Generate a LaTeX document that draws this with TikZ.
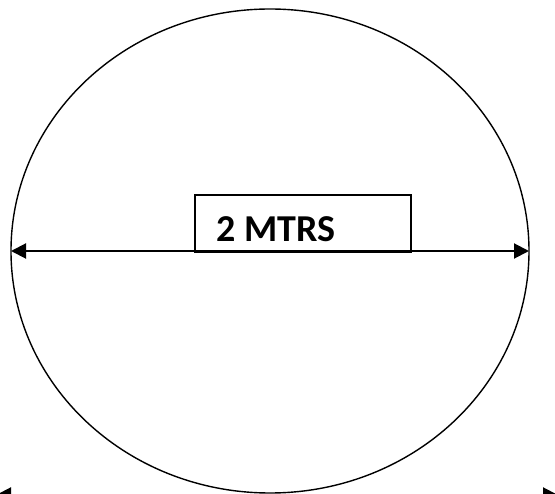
\documentclass[tikz,border=0pt]{standalone}
\usepackage{fontspec}
\setmainfont{Carlito}
\usetikzlibrary{shapes.geometric,arrows.meta}
\tikzset{
  outline/.style={draw=black, line width=1.4pt},
  dimarrow/.style={line width=2pt, {Triangle[length=15pt,width=15pt]}-{Triangle[length=15pt,width=15pt]}},
}
\begin{document}
\begin{tikzpicture}[x=1pt,y=-1pt]
\useasboundingbox (0,0) rectangle (555,494);
\clip (0,0) rectangle (555,494);
\node[outline, ellipse, minimum width=518pt, minimum height=484pt, inner sep=0pt, outer sep=0pt] (ell) at (270,251) {};
\node[outline, rectangle, minimum width=216pt, minimum height=57pt, inner sep=0pt, outer sep=0pt, anchor=south west] (box) at (195,252) {};
\node[anchor=base west, inner sep=0pt, font=\fontsize{38}{42}\selectfont\bfseries] (lbl) at (216,242) {2 MTRS};
\draw[dimarrow] (ell.west) -- (ell.east);
\coordinate (bl) at (-4,495);
\coordinate (br) at (558,495);
\draw[dimarrow] (bl) -- (br);
\end{tikzpicture}
\end{document}
